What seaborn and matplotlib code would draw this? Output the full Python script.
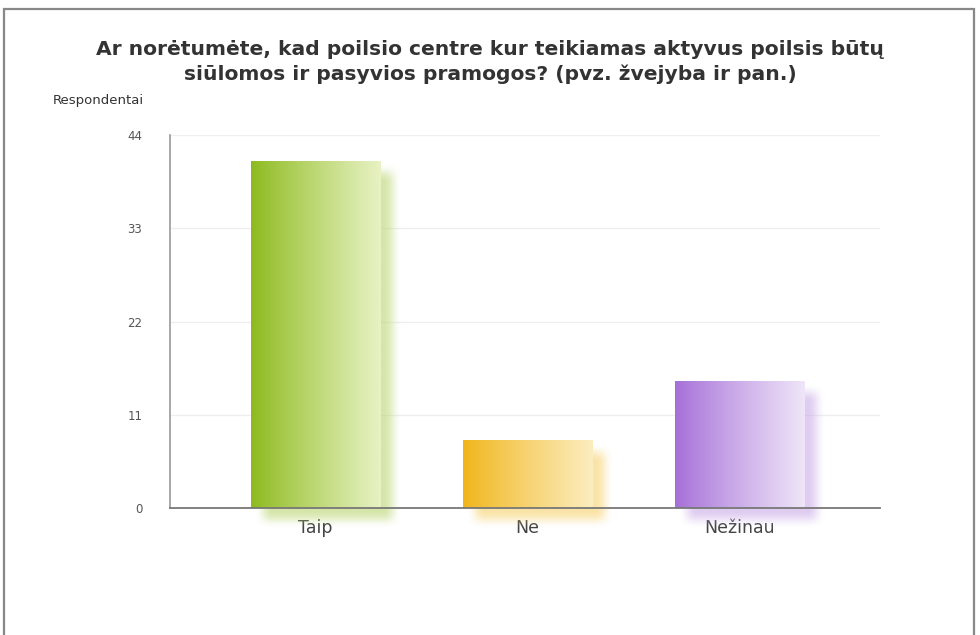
import numpy as np
import pandas as pd
import matplotlib
matplotlib.use("Agg")
import matplotlib.pyplot as plt
from matplotlib.patches import Rectangle
from matplotlib.colors import to_rgb
import seaborn as sns

categories = ["Taip", "Ne", "Nežinau"]
values = [41, 8, 15]
yticks = [0, 11, 22, 33, 44]
left_colors = ["#8cba1c", "#f0b519", "#a56fd8"]
right_colors = ["#e8f2c4", "#fcedbf", "#efe5f8"]
title = ("Ar norėtumėte, kad poilsio centre kur teikiamas aktyvus poilsis būtų\n"
         "siūlomos ir pasyvios pramogos? (pvz. žvejyba ir pan.)")
ylabel = "Respondentai"

sns.set_theme(style="white")
plt.rcParams["font.family"] = ["DejaVu Sans"]

df = pd.DataFrame({"cat": categories, "val": values})

fig = plt.figure(figsize=(9.8, 6.35), dpi=100)
ax = fig.add_axes([0.1735, 0.2, 0.7245, 0.587])
sns.barplot(data=df, x="cat", y="val", hue="cat", palette=left_colors,
            width=0.61, ax=ax, legend=False, zorder=2)

ax.set_ylim(0, 44)
ax.set_xlim(-0.684, 2.66)
ax.set_yticks(yticks)
ax.set_yticklabels([str(t) for t in yticks], fontsize=8.5, color="#555555")
ax.tick_params(axis="y", length=0, pad=20)
ax.tick_params(axis="x", length=0, pad=8, labelsize=12.5, labelcolor="#444444")
ax.set_xlabel("")
ax.set_ylabel("")
for t in yticks[1:]:
    ax.axhline(t, color="#eeeeee", lw=0.9, zorder=0)

for s in ["top", "right"]:
    ax.spines[s].set_visible(False)
ax.spines["left"].set_color("#999999")
ax.spines["left"].set_linewidth(1.2)
ax.spines["bottom"].set_color("#777777")
ax.spines["bottom"].set_linewidth(1.3)
ax.spines["bottom"].set_zorder(5)

# units per pixel
xpp = (2.66 + 0.684) / (0.7245 * 980)
ypp = 44 / (0.587 * 635)

def mix(c1, c2, t):
    a, b = np.array(to_rgb(c1)), np.array(to_rgb(c2))
    return a + (b - a) * t

def ramp(n, b):
    r = np.minimum(np.arange(n), np.arange(n)[::-1]) / (2.0 * b)
    r = np.clip(r, 0, 1)
    return r * r * (3 - 2 * r)

for i, p in enumerate(ax.patches):
    x0, w, h = p.get_x(), p.get_width(), p.get_height()
    # soft shadow
    off_x, off_y, blur = 12 * xpp, 12 * ypp, 9
    sx0, sx1 = x0 + off_x - blur * xpp, x0 + w + off_x + blur * xpp
    sy0, sy1 = 0 - off_y - blur * ypp, h - off_y + blur * ypp
    W = int(round((sx1 - sx0) / xpp))
    H = int(round((sy1 - sy0) / ypp))
    alpha = np.outer(ramp(H, blur), ramp(W, blur)) * 0.6
    col = mix(left_colors[i], right_colors[i], 0.5)
    img = np.zeros((H, W, 4))
    img[..., :3] = col
    img[..., 3] = alpha
    ax.imshow(img, extent=[sx0, sx1, sy0, sy1], aspect="auto", zorder=1,
              clip_on=False, interpolation="bilinear")
    # gradient bar
    t = np.linspace(0, 1, 256)
    grad = np.array([mix(left_colors[i], right_colors[i], tt ** 0.9) for tt in t])[None, :, :]
    im = ax.imshow(grad, extent=[x0, x0 + w, 0, h], aspect="auto", zorder=3,
                   interpolation="bilinear")
    im.set_clip_path(p)
    p.set_facecolor("none")
    p.set_edgecolor("none")

ax.set_xlim(-0.684, 2.66)
ax.set_ylim(0, 44)

fig.text(0.5, 0.902, title, ha="center", va="center", fontsize=14.6,
         fontweight="bold", color="#333333", linespacing=1.38)
fig.text(0.054, 0.842, ylabel, ha="left", va="center", fontsize=9.5, color="#333333")

fig.patches.append(Rectangle((4 / 980, -0.1), 970 / 980, 1 - 9 / 635 + 0.1,
                             transform=fig.transFigure, fill=False,
                             edgecolor="#888888", lw=1.6))

fig.savefig("out.png", dpi=100)
